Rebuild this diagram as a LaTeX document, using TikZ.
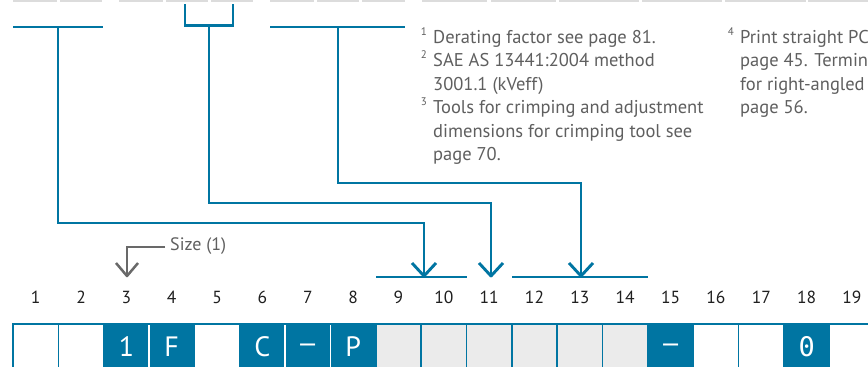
\documentclass[tikz,border=0pt]{standalone}
\usepackage{fontspec}
\setmainfont{PT Sans}
\newfontfamily\dashfont{DejaVu Sans}
\newfontfamily\zerofont{DejaVu Sans Mono}
\usetikzlibrary{calc}
\definecolor{cblue}{RGB}{0,117,162}
\definecolor{cgray}{RGB}{235,235,235}
\definecolor{tgray}{RGB}{95,95,95}
\definecolor{agray}{RGB}{105,105,105}
\definecolor{bargray}{RGB}{220,220,220}
\begin{document}
\begin{tikzpicture}[x=1pt,y=-1pt,
  conn/.style={cblue,line width=2.9pt},
  chev/.style={cblue,line width=2.9pt,line join=round},
  sizeline/.style={agray,line width=2.5pt},
  num/.style={font=\fontsize{17.5}{20}\selectfont,text=black!88,inner sep=0pt},
  note/.style={font=\fontsize{18.5}{21}\selectfont,text=tgray,anchor=base west,inner sep=0pt},
  sup/.style={font=\fontsize{11}{12}\selectfont,text=tgray,anchor=base east,inner sep=0pt},
  celltxt/.style={font=\fontsize{28}{32}\selectfont,text=white,inner sep=0pt},
  dashtxt/.style={font=\dashfont\fontsize{24}{28}\selectfont,text=white,inner sep=0pt}]
\useasboundingbox (0,0) rectangle (868,367);
\clip (0,0) rectangle (868,367);
\fill[white] (0,0) rectangle (868,367);
% top grey bars
\foreach \a/\b in {13/57,60/102,119/163,166/208,211/253,270/314,317/359,362/405,422/487,491/556,559/639,642/722,725/806,808/870}
  \fill[bargray] (\a,0) rectangle (\b,2);
% brackets
\draw[conn] (13,27) -- (103,27);
\draw[conn] (185,4) -- (185,25.5) -- (233,25.5) -- (233,4);
\draw[conn] (270,27) -- (405,27);
\coordinate (b1) at (58,27);
\coordinate (b2) at (209,25.5);
\coordinate (b3) at (338,27);
\coordinate (t1) at (424,276);
\coordinate (t2) at (491,276);
\coordinate (t3) at (581,276);
\coordinate (r1) at (424,223);
\coordinate (r2) at (491,203);
\coordinate (r3) at (581,183);
\draw[conn,line join=miter] (b1) |- (r1) -- (t1);
\draw[conn,line join=miter] (b2) |- (r2) -- (t2);
\draw[conn,line join=miter] (b3) |- (r3) -- (t3);
\foreach \t in {t1,t2,t3}
  \draw[chev] ($(\t)+(-12,-13)$) -- (\t) -- ($(\t)+(12,-13)$);
\draw[conn] (376,277) -- (467,277);
\draw[conn] (512,277) -- (648,277);
% size arrow
\coordinate (s0) at (165,247);
\coordinate (st) at (127,276);
\draw[sizeline,line join=miter] (s0) -| (st);
\draw[sizeline,line join=round] ($(st)+(-11,-13)$) -- (st) -- ($(st)+(11,-13)$);
\node[font=\fontsize{18}{20}\selectfont,text=tgray,anchor=west,inner sep=0pt] (size) at (170,246) {Size (1)};
% column numbers
\foreach \k in {1,...,19}
  \node[num] (n\k) at ({13+(\k-1)*45.35+22.68},297) {\k};
% cells
\foreach \k/\c in {1/white,2/white,3/cblue,4/cblue,5/white,6/cblue,7/cblue,8/cblue,9/cgray,10/cgray,11/cgray,12/cgray,13/cgray,14/cgray,15/cblue,16/white,17/white,18/cblue,19/white}
  \fill[\c] ({13+(\k-1)*45.35},323) rectangle ({13+\k*45.35},370);
\foreach \k in {0,...,19}
  \draw[cblue,line width=1.6pt] ({13+\k*45.35},323) -- ({13+\k*45.35},370);
\foreach \k in {3,6,7}
  \draw[white,line width=1.8pt] ({13+\k*45.35},325) -- ({13+\k*45.35},370);
\draw[cblue,line width=2pt] (12.2,324) -- (870,324);
\foreach \k/\t in {3/1,4/F,6/C,8/P}
  \node[celltxt] (c\k) at ({13+(\k-1)*45.35+22.68},347) {\t};
\node[celltxt,font=\zerofont\fontsize{27}{30}\selectfont] (c18) at ({13+17*45.35+22.68},347) {0};
\node[dashtxt] (c7) at ({13+6*45.35+22.68},348) {−};
\node[dashtxt] (c15) at ({13+14*45.35+22.68},348) {−};
% footnotes
\node[sup] (s1) at (427,35) {1};
\node[note] (f1a) at (433,43) {Derating factor see page 81.};
\node[sup] (s2) at (427,58) {2};
\node[note] (f2a) at (433,66) {SAE AS 13441:2004 method};
\node[note] (f2b) at (433,90) {3001.1 (kVeff)};
\node[sup] (s3) at (427,105) {3};
\node[note] (f3a) at (433,113) {Tools for crimping and adjustment};
\node[note] (f3b) at (433,137) {dimensions for crimping tool see};
\node[note] (f3c) at (433,160) {page 70.};
\node[sup] (s4) at (734,35) {4};
\node[note] (f4a) at (740,43) {Print straight PC};
\node[note] (f4b) at (740,66) {page 45. Termin};
\node[note] (f4c) at (740,90) {for right-angled};
\node[note] (f4d) at (740,113) {page 56.};
\end{tikzpicture}
\end{document}
